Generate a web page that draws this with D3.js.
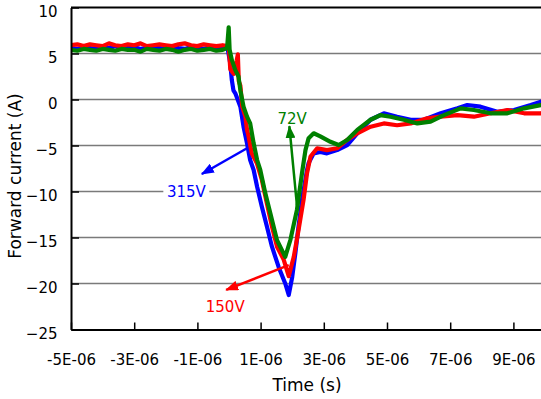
<!DOCTYPE html>
<html>
<head>
<meta charset="utf-8">
<script src="https://cdn.jsdelivr.net/npm/d3@7"></script>
<style>
  html, body { margin: 0; padding: 0; background: #fff; }
  svg { display: block; font-family: "DejaVu Sans", Verdana, sans-serif; }
</style>
</head>
<body>
<div id="chart"></div>
<script>
// time in microseconds, forward current in A
var blue315 = [[-5,5.6],[-4.8,5.5],[-4.6,5.7],[-4.4,5.6],[-4.2,5.5],[-4,5.7],[-3.8,5.6],[-3.6,5.8],[-3.4,5.5],[-3.2,5.6],
    [-3,5.7],[-2.8,5.5],[-2.6,5.6],[-2.4,5.7],[-2.2,5.6],[-2,5.5],[-1.8,5.8],[-1.6,5.6],[-1.4,5.5],[-1.2,5.7],
    [-1,5.6],[-0.8,5.5],[-0.6,5.7],[-0.4,5.6],[-0.2,5.5],[-0.05,5.7],[0.04,3.9],[0.09,2.1],[0.14,1.0],[0.2,0.67],
    [0.36,-0.78],[0.46,-2.96],[0.57,-4.76],[0.67,-6.58],[0.78,-7.66],[0.89,-9.48],[1.04,-11.65],[1.2,-13.8],[1.36,-16.0],[1.57,-18.2],
    [1.78,-20.0],[1.89,-21.25],[2.0,-19.3],[2.1,-16.7],[2.2,-13.8],[2.31,-10.9],[2.47,-7.66],[2.52,-6.9],[2.68,-5.85],[2.89,-5.7],
    [3.1,-5.85],[3.42,-5.5],[3.74,-4.95],[4.06,-3.67],[4.48,-2.2],[4.9,-1.5],[5.32,-1.87],[5.75,-2.2],[6.17,-2.2],[6.7,-1.5],
    [7.23,-0.96],[7.54,-0.6],[7.96,-0.78],[8.49,-1.33],[9.02,-1.14],[9.55,-0.6],[9.87,-0.24],[10,-0.3]];

var red150 = [[-5,5.9],[-4.8,6.0],[-4.6,5.8],[-4.4,6.0],[-4.2,5.9],[-4,5.8],[-3.8,6.1],[-3.6,5.9],[-3.4,5.8],[-3.2,6.0],
    [-3,5.9],[-2.8,6.1],[-2.6,5.8],[-2.4,5.9],[-2.2,6.0],[-2,5.9],[-1.8,5.8],[-1.6,6.0],[-1.4,6.1],[-1.2,5.9],
    [-1,5.8],[-0.8,6.0],[-0.6,5.9],[-0.4,5.8],[-0.2,5.9],[-0.05,5.8],[0.0,5.4],[0.04,3.3],[0.15,2.8],[0.24,4.2],
    [0.28,4.9],[0.31,2.0],[0.36,1.5],[0.42,-0.8],[0.52,-1.9],[0.57,-3.3],[0.62,-4.0],[0.72,-5.85],[0.88,-6.9],[1.04,-8.75],
    [1.2,-11.3],[1.36,-13.8],[1.52,-16.0],[1.73,-17.4],[1.89,-19.2],[2.05,-17.1],[2.2,-14.2],[2.36,-10.9],[2.47,-8.0],[2.58,-6.2],
    [2.79,-5.3],[3.1,-5.5],[3.42,-5.3],[3.74,-4.4],[4.06,-3.67],[4.48,-2.96],[4.9,-2.6],[5.32,-2.8],[5.75,-2.6],[6.27,-2.05],
    [6.7,-1.87],[7.23,-1.7],[7.75,-1.87],[8.28,-1.5],[8.81,-1.14],[9.34,-1.5],[9.87,-1.5],[10,-1.4]];

var green72 = [[-5,5.4],[-4.8,5.3],[-4.6,5.5],[-4.4,5.4],[-4.2,5.3],[-4,5.5],[-3.8,5.4],[-3.6,5.3],[-3.4,5.5],[-3.2,5.4],
    [-3,5.4],[-2.8,5.2],[-2.6,5.5],[-2.4,5.4],[-2.2,5.3],[-2,5.5],[-1.8,5.4],[-1.6,5.2],[-1.4,5.4],[-1.2,5.5],
    [-1,5.3],[-0.8,5.4],[-0.6,5.5],[-0.4,5.3],[-0.2,5.4],[-0.06,5.6],[-0.01,7.85],[0.02,5.4],[0.09,4.3],[0.2,3.2],
    [0.3,2.5],[0.36,1.0],[0.46,-0.78],[0.57,-1.87],[0.67,-2.6],[0.78,-4.76],[0.89,-6.58],[0.99,-7.66],[1.15,-10.2],[1.31,-12.4],
    [1.52,-15.3],[1.78,-17.1],[1.94,-15.3],[2.15,-12.0],[2.31,-8.0],[2.42,-5.5],[2.52,-4.2],[2.68,-3.67],[2.89,-4.0],[3.21,-4.6],
    [3.47,-4.95],[3.74,-4.4],[4.06,-3.3],[4.48,-2.2],[4.79,-1.7],[5.11,-1.87],[5.53,-2.2],[5.96,-2.6],[6.38,-2.4],[6.8,-1.7],
    [7.33,-0.96],[7.75,-1.14],[8.28,-1.5],[8.81,-1.5],[9.34,-0.96],[9.87,-0.6],[10,-0.6]];

var xTicks = [-5, -3, -1, 1, 3, 5, 7, 9];
var xTickLabels = ["-5E-06", "-3E-06", "-1E-06", "1E-06", "3E-06", "5E-06", "7E-06", "9E-06"];
var yTicks = [10, 5, 0, -5, -10, -15, -20, -25];

var seriesNames = ["315V", "150V", "72V"];
var seriesColors = ["#0000ff", "#ff0000", "#008000"];

// arrow start, arrow tip and label centre, in data units
var notes = [
    { name: "315V", from: [0.57, -5.3], to: [-0.86, -8.1], label: [-1.35, -10.0] },
    { name: "150V", from: [1.89, -18.0], to: [-0.09, -20.7], label: [-0.12, -22.55] },
    { name: "72V", from: [2.15, -11.5], to: [1.91, -2.9], label: [2.0, -2.1] }
];

(function() {
    'use strict';

    var init = function() {
        var width = 541, height = 399;
        var left = 71, top = 7.5, right = 545, bottom = 329.5;

        var x = d3.scaleLinear().domain([-5, 10]).range([left, right]);
        var y = d3.scaleLinear().domain([-25, 10]).range([bottom, top]);

        var svg = d3.select("#chart")
            .append("svg")
            .attr("width", width)
            .attr("height", height);

        svg.append("defs").append("clipPath")
            .attr("id", "plot-clip")
            .append("rect")
            .attr("x", left).attr("y", top)
            .attr("width", right - left).attr("height", bottom - top);

        // grid lines
        svg.append("g")
            .selectAll("line")
            .data(yTicks.filter(function(d) { return d !== 10 && d !== -25; }))
            .enter().append("line")
            .attr("x1", left).attr("x2", width)
            .attr("y1", function(d) { return y(d); })
            .attr("y2", function(d) { return y(d); })
            .attr("stroke", "#7a7a7a")
            .attr("stroke-width", 1.5);

        // top border
        svg.append("line")
            .attr("x1", left).attr("x2", width)
            .attr("y1", y(10)).attr("y2", y(10))
            .attr("stroke", "#000").attr("stroke-width", 2);

        // traces
        var line = d3.line()
            .x(function(d) { return x(d[0]); })
            .y(function(d) { return y(d[1]); });

        var traces = [blue315, red150, green72];
        svg.append("g")
            .attr("clip-path", "url(#plot-clip)")
            .selectAll("path")
            .data(traces).enter()
            .append("path")
            .attr("d", line)
            .attr("fill", "none")
            .attr("stroke", function(d, i) { return seriesColors[i]; })
            .attr("stroke-width", 4.2)
            .attr("stroke-linejoin", "round");

        // axes
        var xAxis = d3.axisBottom(x)
            .tickValues(xTicks)
            .tickFormat(function(d, i) { return xTickLabels[i]; })
            .tickSizeInner(-7)
            .tickSizeOuter(0)
            .tickPadding(25);

        var gx = svg.append("g")
            .attr("transform", "translate(0," + bottom + ")")
            .call(xAxis);
        gx.select(".domain").attr("stroke", "#000").attr("stroke-width", 2);
        gx.selectAll(".tick line").attr("stroke", "#000").attr("stroke-width", 1.5);
        gx.selectAll("text")
            .attr("fill", "#000")
            .style("font-size", "15px")
            .style("font-family", "DejaVu Sans, sans-serif");

        var yAxis = d3.axisLeft(y)
            .tickValues(yTicks)
            .tickSizeInner(-8)
            .tickSizeOuter(0)
            .tickPadding(13.5);

        var gy = svg.append("g")
            .attr("transform", "translate(" + left + ",0)")
            .call(yAxis);
        gy.select(".domain").attr("stroke", "#000").attr("stroke-width", 2);
        gy.selectAll(".tick line").attr("stroke", "#000").attr("stroke-width", 1.5);
        gy.selectAll("text")
            .attr("fill", "#000")
            .attr("y", 4)
            .style("font-size", "15px")
            .style("font-family", "DejaVu Sans, sans-serif");

        // axis titles
        svg.append("text")
            .attr("x", 307).attr("y", 391)
            .attr("text-anchor", "middle")
            .style("font-size", "17px")
            .text("Time (s)");

        svg.append("text")
            .attr("transform", "translate(15,176) rotate(-90)")
            .attr("text-anchor", "middle")
            .attr("dy", "0.35em")
            .style("font-size", "17px")
            .text("Forward current (A)");

        // arrow heads
        var defs = svg.select("defs");
        seriesNames.forEach(function(name, i) {
            defs.append("marker")
                .attr("id", "head-" + i)
                .attr("markerUnits", "userSpaceOnUse")
                .attr("viewBox", "0 0 13 10")
                .attr("markerWidth", 13).attr("markerHeight", 10)
                .attr("refX", 12).attr("refY", 5)
                .attr("orient", "auto")
                .append("path")
                .attr("d", "M0,0L13,5L0,10Z")
                .attr("fill", seriesColors[i]);
        });

        var ann = svg.append("g").selectAll("g")
            .data(notes).enter().append("g");

        ann.append("line")
            .attr("x1", function(d) { return x(d.from[0]); })
            .attr("y1", function(d) { return y(d.from[1]); })
            .attr("x2", function(d) { return x(d.to[0]); })
            .attr("y2", function(d) { return y(d.to[1]); })
            .attr("stroke", function(d) { return seriesColors[seriesNames.indexOf(d.name)]; })
            .attr("stroke-width", 2.5)
            .attr("marker-end", function(d) { return "url(#head-" + seriesNames.indexOf(d.name) + ")"; });

        // white box behind labels so the grid line breaks
        ann.filter(function(d) { return d.name === "315V"; })
            .append("rect")
            .attr("x", function(d) { return x(d.label[0]) - 23; })
            .attr("y", function(d) { return y(d.label[1]) - 9; })
            .attr("width", 46).attr("height", 18)
            .attr("fill", "#fff");

        ann.append("text")
            .attr("x", function(d) { return x(d.label[0]); })
            .attr("y", function(d) { return y(d.label[1]); })
            .attr("dy", "0.36em")
            .attr("text-anchor", "middle")
            .attr("fill", function(d) { return seriesColors[seriesNames.indexOf(d.name)]; })
            .style("font-size", "15px")
            .text(function(d) { return d.name; });
    };
    window.onload = init;
})();
</script>
</body>
</html>
